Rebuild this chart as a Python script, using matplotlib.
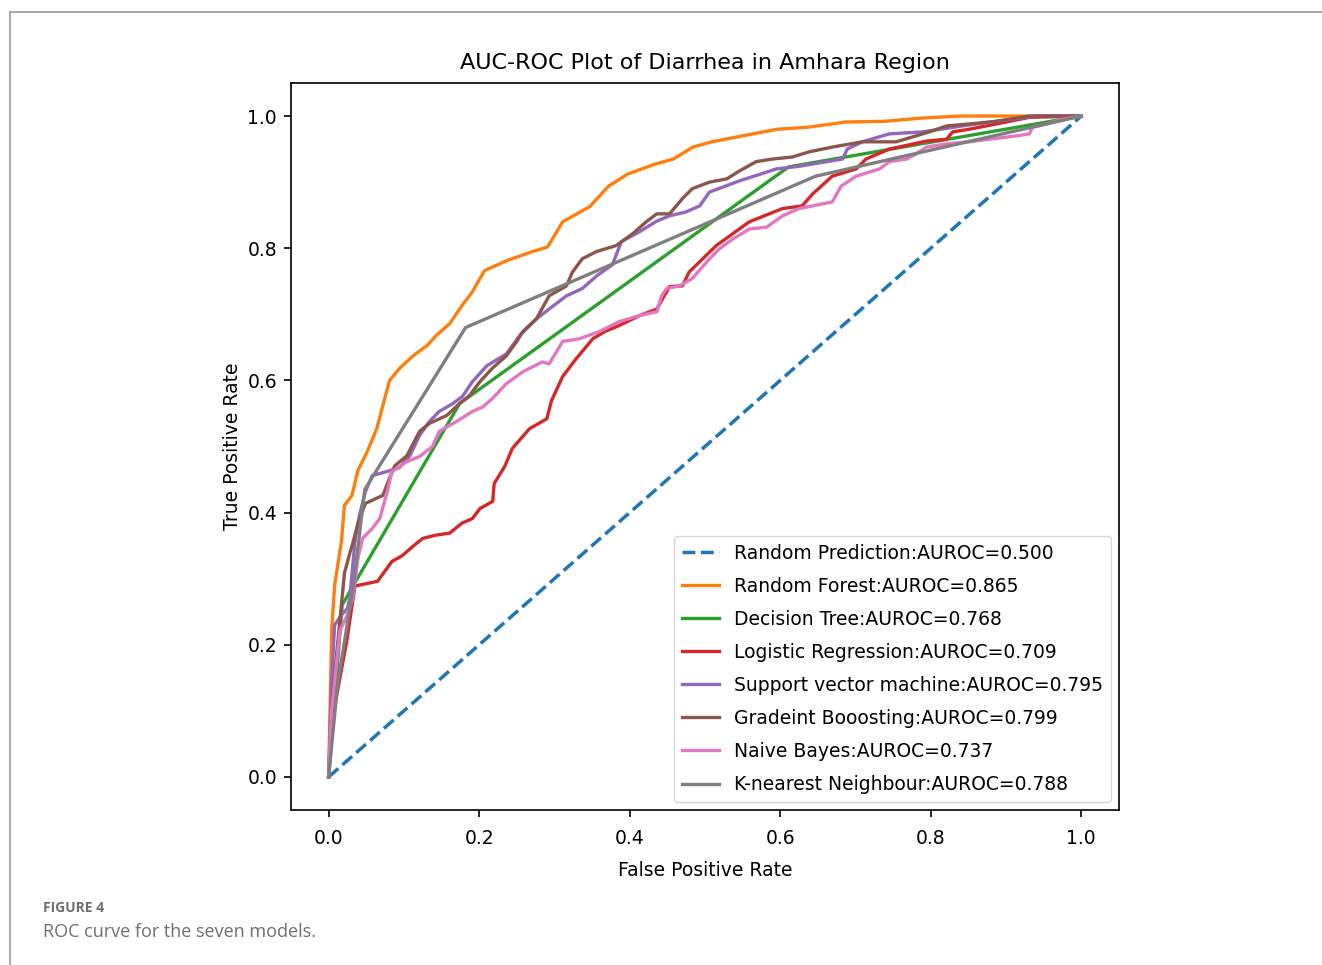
import matplotlib
matplotlib.use("Agg")
import matplotlib.pyplot as plt
from matplotlib.lines import Line2D

# ROC points (fpr, tpr)
rf_fpr = [0, 0.004, 0.008, 0.017, 0.021, 0.031, 0.039, 0.050, 0.064, 0.072, 0.081, 0.094, 0.112, 0.131,
          0.143, 0.161, 0.177, 0.191, 0.207, 0.236, 0.271, 0.291, 0.311, 0.347, 0.372, 0.397, 0.433,
          0.458, 0.484, 0.509, 0.550, 0.596, 0.636, 0.687, 0.738, 0.789, 0.839, 1.0]
rf_tpr = [0, 0.221, 0.290, 0.356, 0.411, 0.426, 0.464, 0.489, 0.527, 0.562, 0.600, 0.618, 0.637, 0.653,
          0.668, 0.686, 0.713, 0.734, 0.766, 0.781, 0.795, 0.802, 0.840, 0.863, 0.894, 0.912, 0.927,
          0.935, 0.953, 0.961, 0.970, 0.980, 0.983, 0.991, 0.992, 0.997, 1.0, 1.0]

dt_fpr = [0, 0.018, 0.036, 0.174, 0.611, 1.0]
dt_tpr = [0, 0.260, 0.296, 0.565, 0.923, 1.0]

lr_fpr = [0, 0.003, 0.007, 0.015, 0.024, 0.035, 0.065, 0.084, 0.098, 0.112, 0.125, 0.143, 0.161, 0.177,
          0.191, 0.201, 0.218, 0.220, 0.234, 0.244, 0.267, 0.290, 0.296, 0.311, 0.329, 0.351, 0.367,
          0.386, 0.413, 0.436, 0.453, 0.470, 0.479, 0.497, 0.515, 0.559, 0.603, 0.629, 0.643, 0.669,
          0.701, 0.714, 0.745, 0.794, 0.821, 0.829, 0.851, 0.887, 0.931, 1.0]
lr_tpr = [0, 0.059, 0.100, 0.150, 0.205, 0.289, 0.296, 0.326, 0.335, 0.349, 0.361, 0.366, 0.369, 0.384,
          0.391, 0.406, 0.417, 0.444, 0.470, 0.497, 0.527, 0.542, 0.569, 0.606, 0.633, 0.663, 0.674,
          0.683, 0.698, 0.708, 0.742, 0.743, 0.764, 0.784, 0.804, 0.840, 0.860, 0.864, 0.882, 0.909,
          0.920, 0.935, 0.950, 0.962, 0.965, 0.976, 0.980, 0.988, 0.998, 1.0]

svm_fpr = [0, 0.004, 0.008, 0.017, 0.025, 0.028, 0.035, 0.041, 0.049, 0.058, 0.077, 0.094, 0.108, 0.121,
           0.134, 0.147, 0.165, 0.178, 0.191, 0.210, 0.236, 0.254, 0.276, 0.293, 0.316, 0.337, 0.356,
           0.377, 0.389, 0.413, 0.436, 0.453, 0.475, 0.493, 0.506, 0.546, 0.595, 0.625, 0.683, 0.689,
           0.709, 0.745, 0.789, 0.842, 0.887, 0.940, 1.0]
svm_tpr = [0, 0.145, 0.230, 0.245, 0.255, 0.270, 0.356, 0.396, 0.432, 0.456, 0.462, 0.468, 0.486, 0.517,
           0.538, 0.553, 0.565, 0.576, 0.598, 0.622, 0.640, 0.668, 0.693, 0.708, 0.728, 0.739, 0.758,
           0.775, 0.810, 0.825, 0.841, 0.849, 0.855, 0.864, 0.885, 0.902, 0.920, 0.924, 0.935, 0.950,
           0.961, 0.973, 0.976, 0.985, 0.992, 1.0, 1.0]

gb_fpr = [0, 0.005, 0.011, 0.017, 0.021, 0.028, 0.032, 0.039, 0.049, 0.072, 0.081, 0.088, 0.104, 0.114,
          0.121, 0.134, 0.157, 0.174, 0.187, 0.201, 0.218, 0.236, 0.250, 0.258, 0.276, 0.293, 0.316,
          0.324, 0.337, 0.356, 0.382, 0.404, 0.422, 0.436, 0.453, 0.470, 0.483, 0.506, 0.529, 0.546,
          0.568, 0.590, 0.616, 0.639, 0.669, 0.709, 0.754, 0.798, 0.821, 0.851, 0.887, 0.931, 1.0]
gb_tpr = [0, 0.119, 0.190, 0.260, 0.308, 0.338, 0.353, 0.384, 0.414, 0.426, 0.452, 0.471, 0.486, 0.508,
          0.523, 0.535, 0.547, 0.565, 0.577, 0.598, 0.619, 0.637, 0.659, 0.674, 0.693, 0.728, 0.743,
          0.764, 0.784, 0.795, 0.804, 0.822, 0.840, 0.852, 0.852, 0.875, 0.890, 0.900, 0.905, 0.917,
          0.931, 0.935, 0.938, 0.946, 0.953, 0.961, 0.961, 0.976, 0.985, 0.988, 0.992, 1.0, 1.0]

nb_fpr = [0, 0.001, 0.004, 0.015, 0.024, 0.032, 0.039, 0.045, 0.058, 0.068, 0.078, 0.084, 0.104, 0.121,
          0.138, 0.147, 0.170, 0.191, 0.205, 0.218, 0.236, 0.258, 0.284, 0.293, 0.311, 0.333, 0.360,
          0.386, 0.413, 0.436, 0.442, 0.449, 0.466, 0.483, 0.506, 0.519, 0.537, 0.559, 0.582, 0.603,
          0.625, 0.669, 0.681, 0.701, 0.732, 0.745, 0.768, 0.781, 0.794, 0.821, 0.851, 0.878, 0.914,
          0.931, 0.935, 0.954, 0.975, 1.0]
nb_tpr = [0, 0.029, 0.100, 0.221, 0.243, 0.270, 0.331, 0.361, 0.376, 0.391, 0.432, 0.462, 0.477, 0.485,
          0.500, 0.523, 0.538, 0.553, 0.560, 0.573, 0.595, 0.613, 0.628, 0.625, 0.659, 0.663, 0.674,
          0.689, 0.698, 0.704, 0.727, 0.739, 0.743, 0.754, 0.784, 0.799, 0.814, 0.829, 0.832, 0.849,
          0.860, 0.870, 0.894, 0.909, 0.920, 0.931, 0.935, 0.943, 0.953, 0.958, 0.961, 0.965, 0.970,
          0.973, 0.983, 0.988, 0.995, 1.0]

knn_fpr = [0, 0.012, 0.033, 0.048, 0.182, 0.647, 1.0]
knn_tpr = [0, 0.140, 0.290, 0.435, 0.680, 0.909, 1.0]

models = [
    ("Random Forest", 0.865, rf_fpr, rf_tpr),
    ("Decision Tree", 0.768, dt_fpr, dt_tpr),
    ("Logistic Regression", 0.709, lr_fpr, lr_tpr),
    ("Support vector machine", 0.795, svm_fpr, svm_tpr),
    ("Gradeint Booosting", 0.799, gb_fpr, gb_tpr),
    ("Naive Bayes", 0.737, nb_fpr, nb_tpr),
    ("K-nearest Neighbour", 0.788, knn_fpr, knn_tpr),
]
colors = ["tab:orange", "tab:green", "tab:red", "tab:purple", "tab:brown", "tab:pink", "tab:gray"]

fig = plt.figure(figsize=(13.22, 9.65), dpi=100)
ax = fig.add_axes([0.2201, 0.1606, 0.6263, 0.7534])

ax.plot([0, 1], [0, 1], linestyle="--", color="tab:blue", lw=2.5,
        label="Random Prediction:AUROC=%.3f" % 0.5)
for (name, auc, fpr, tpr), c in zip(models, colors):
    ax.plot(fpr, tpr, color=c, lw=2.4, label="%s:AUROC=%.3f" % (name, auc))

ax.set_title("AUC-ROC Plot of Diarrhea in Amhara Region", fontsize=16, pad=10)
ax.set_xlabel("False Positive Rate", fontsize=13.5, labelpad=9)
ax.set_ylabel("True Positive Rate", fontsize=13.5, labelpad=4)
ax.tick_params(labelsize=13.5, length=5, width=1.2)
ax.tick_params(axis="x", pad=9)
ax.tick_params(axis="y", pad=5)
for s in ax.spines.values():
    s.set_linewidth(1.2)
ax.legend(loc="lower right", fontsize=13.5, handlelength=2.0, labelspacing=0.75,
          borderaxespad=0.45)

# page frame and caption
fig.add_artist(Line2D([10 / 1322, 1], [1 - 12 / 965, 1 - 12 / 965], color="#9a9a9a", lw=1.2))
fig.add_artist(Line2D([10 / 1322, 10 / 1322], [0, 1 - 12 / 965], color="#9a9a9a", lw=1.2))
fig.text(43 / 1322, 1 - 908 / 965, "FIGURE 4", fontsize=10, color="#6e6e6e",
         fontweight="bold", family="Open Sans", va="center")
fig.text(43 / 1322, 1 - 932 / 965, "ROC curve for the seven models.", fontsize=13,
         color="#6e6e6e", family="Open Sans", va="center")

fig.savefig("out.png", dpi=100)
